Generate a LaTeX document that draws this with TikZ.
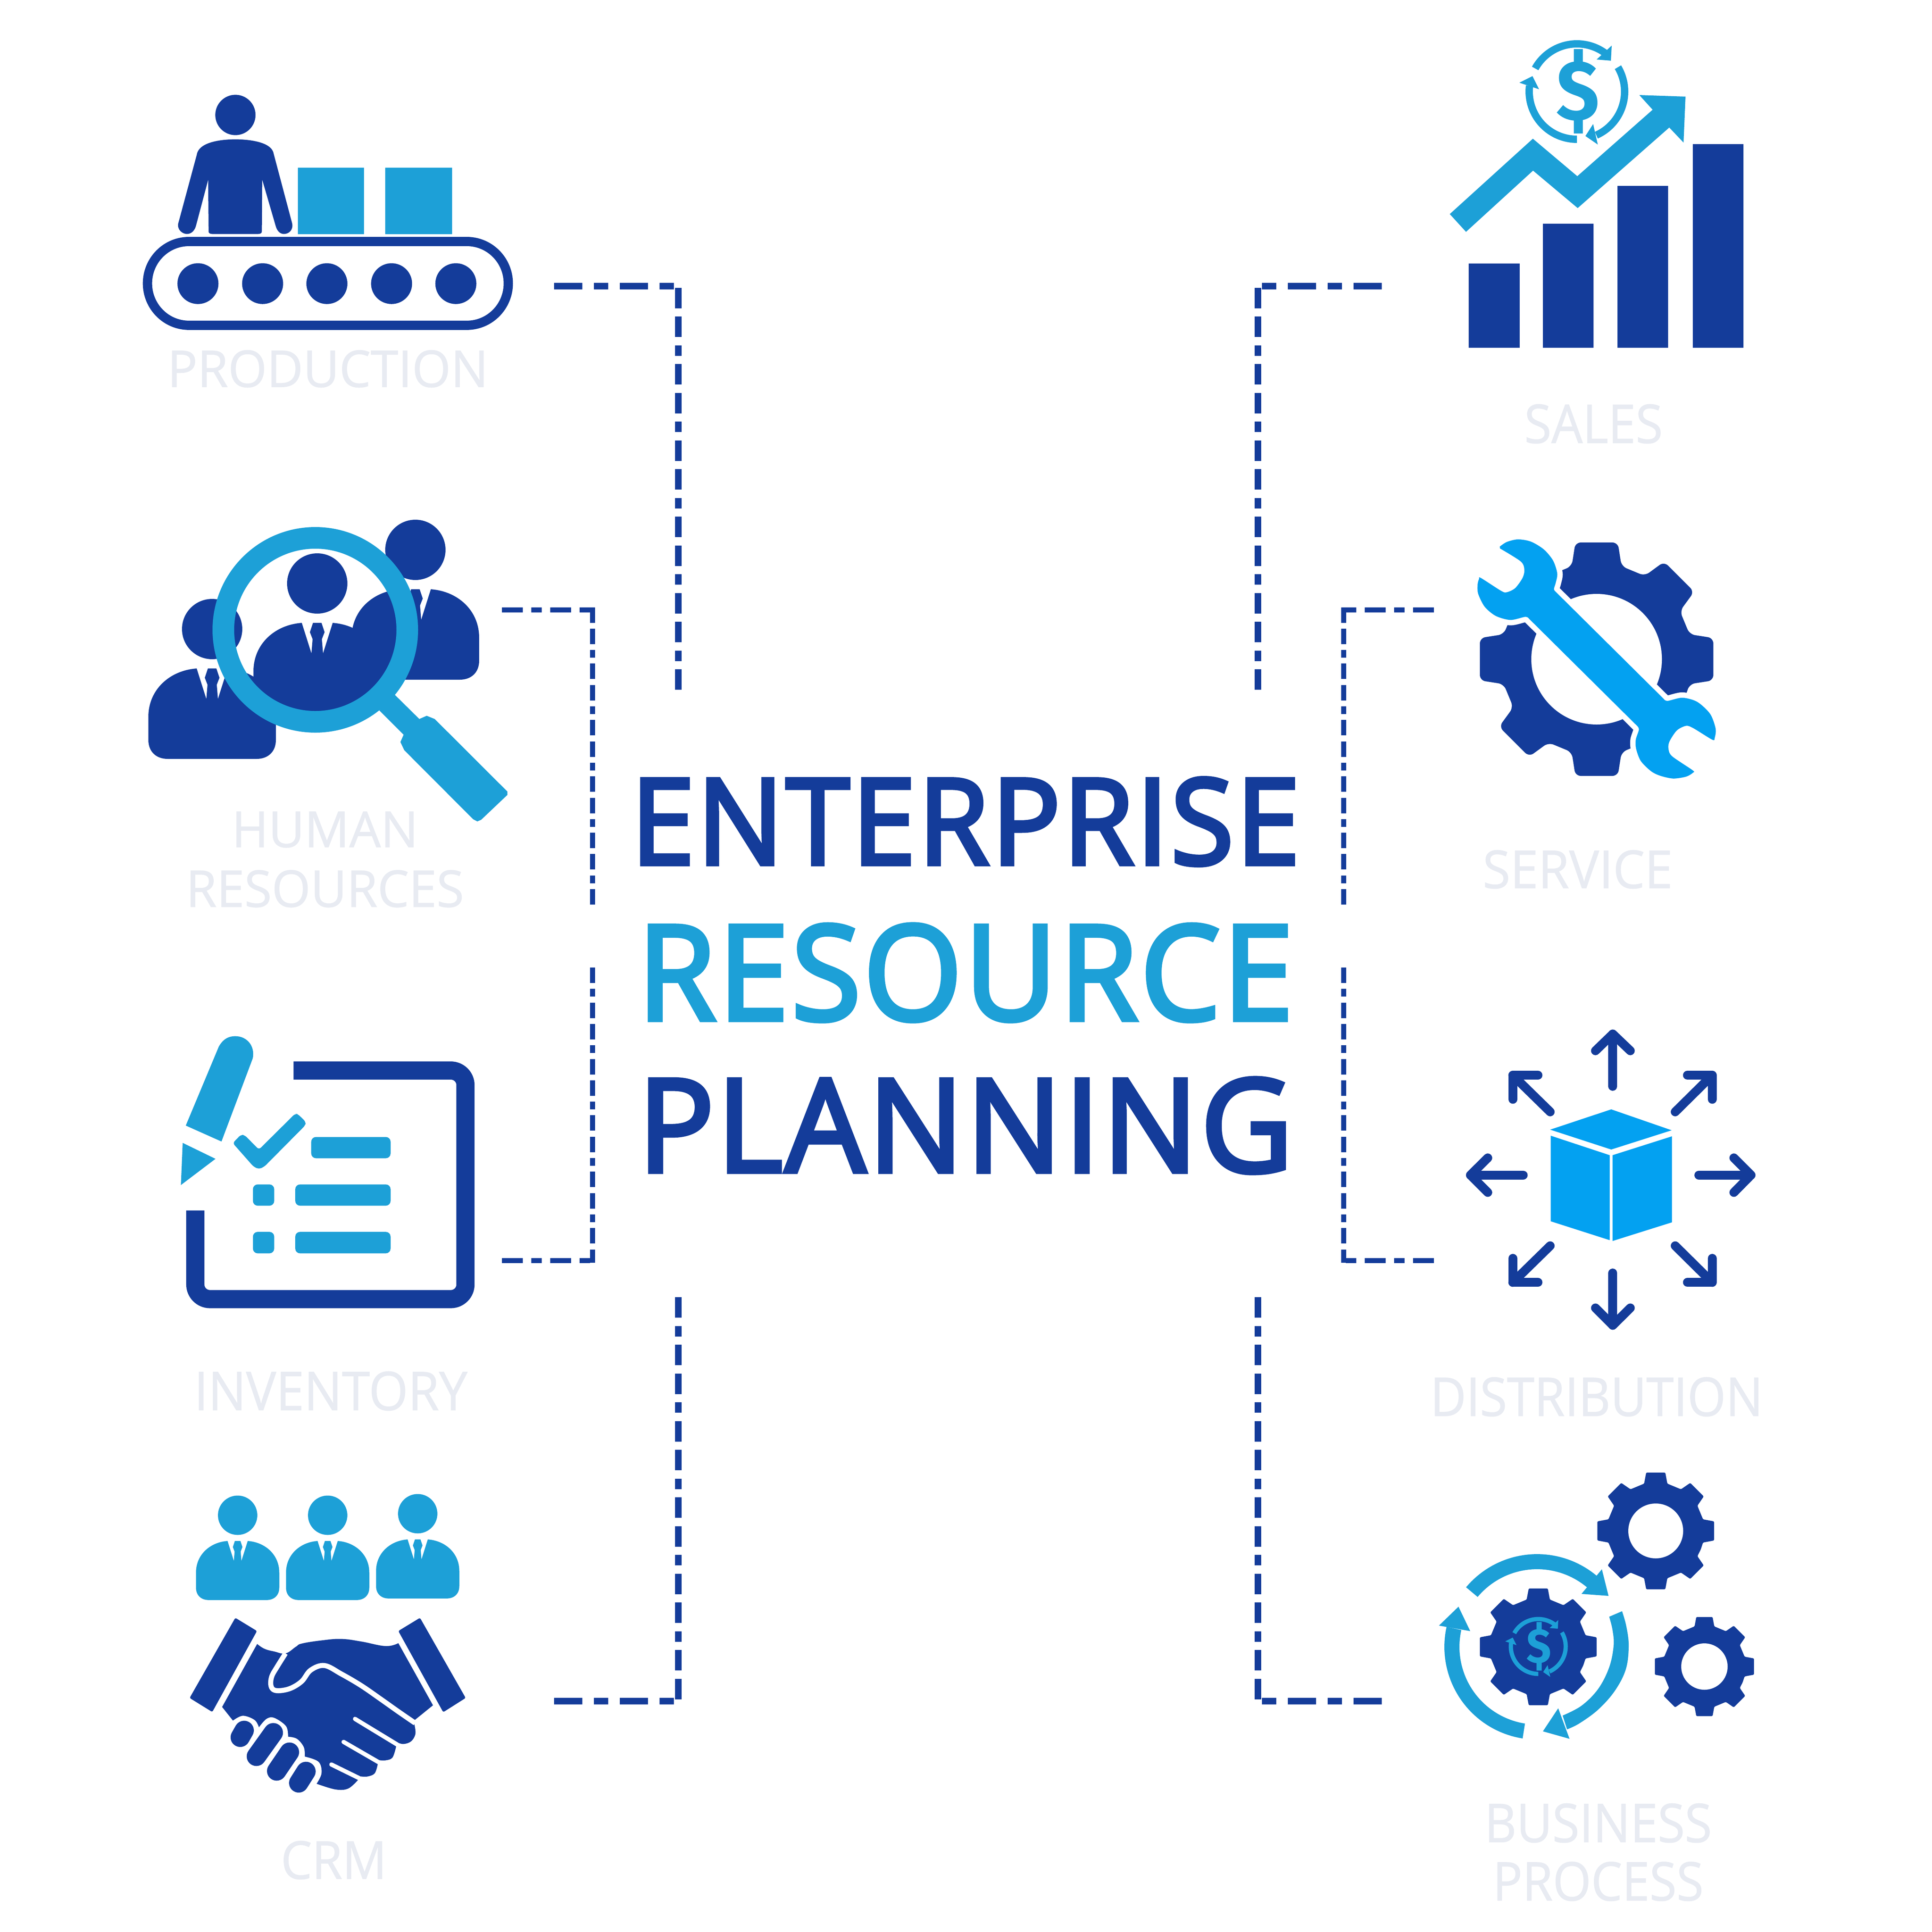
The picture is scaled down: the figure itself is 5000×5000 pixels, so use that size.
\documentclass[tikz,border=0pt]{standalone}
\usepackage{fontspec}
\usepackage{graphicx}
\setmainfont{Open Sans}[FakeBold=1]
\newfontfamily\titlefont{Open Sans}[FakeBold=3.5,LetterSpace=2]
\newfontfamily\dollarfont{Fira Sans}
\definecolor{dk}{HTML}{143C9A}
\definecolor{cy}{HTML}{1DA0D7}
\definecolor{br}{HTML}{03A1F1}
\definecolor{lt}{HTML}{E8EBF2}
\newdimen\ux \ux=0.02cm
\newcommand{\annul}[7]{\fill[#7] plot[domain=#5:#6,samples=40] ({#1+#4*cos(\x)},{#2-#4*sin(\x)}) -- plot[domain=#6:#5,samples=40] ({#1+#3*cos(\x)},{#2-#3*sin(\x)}) -- cycle;}
\newcommand{\gearshape}[8]{%
 \fill[dk,rounded corners=#8] ({#1+#4*cos(-22.5)},{#2-#4*sin(-22.5)})
  \foreach \i in {0,45,...,315} {
   -- ({#1+#4*cos(\i-#6)},{#2-#4*sin(\i-#6)})
   -- ({#1+#3*cos(\i-#5)},{#2-#3*sin(\i-#5)})
   -- ({#1+#3*cos(\i+#5)},{#2-#3*sin(\i+#5)})
   -- ({#1+#4*cos(\i+#6)},{#2-#4*sin(\i+#6)})
  } -- cycle;
 \fill[white] (#1,#2) circle (#7);}
\tikzset{
 lbl/.style={inner sep=0pt,outer sep=0pt,text=lt},
 ttl/.style={inner sep=0pt,outer sep=0pt},
 dashbig/.style={dk,dash pattern=on 53\ux off 21.5\ux on 27\ux off 21.5\ux on 53\ux off 21.5\ux,line width=17\ux},
 dashsmall/.style={dk,dash pattern=on 40\ux off 15.3\ux on 20\ux off 15.3\ux on 40\ux off 15.3\ux,line width=13\ux},
 hbig/.style={dk,dash pattern=on 73\ux off 30\ux on 37\ux off 30\ux,line width=17\ux},
 hsmall/.style={dk,dash pattern=on 54\ux off 22\ux on 27\ux off 22\ux,line width=13\ux},
 arw/.style={dk,line width=23\ux,line cap=round,line join=round},
 bust/.pic={
  \fill[pic actions] (0,-102) circle (78);
  \fill[pic actions] (-40,0) .. controls (-110,5) and (-165,55) .. (-165,125) -- (-165,185)
    .. controls (-165,215) and (-145,234) .. (-115,234) -- (115,234)
    .. controls (145,234) and (165,215) .. (165,185) -- (165,125)
    .. controls (165,55) and (110,5) .. (40,0)
    -- (15,79) -- (12,42) -- (19,24) -- (11,0) -- (-11,0) -- (-19,24) -- (-12,42) -- (-15,79) -- cycle;
 },
 dollarring/.pic={
  \annul{0}{0}{114}{133}{151}{53.5}{cy}
  \annul{0}{0}{114}{133}{30.7}{-66}{cy}
  \annul{0}{0}{114}{133}{-90}{-187}{cy}
  \fill[cy] (90,-119) -- (88,-80) -- (51,-83) -- cycle;
  \fill[cy] (42,84) -- (22,115) -- (54,137) -- cycle;
  \fill[cy] (-149,-23) -- (-115,-40) -- (-98,-6) -- cycle;
  \node[transform shape,inner sep=0pt,text=cy] at (2.5,-0.5) {\resizebox{112\ux}{183\ux}{\dollarfont\bfseries\$}};
 }
}
\begin{document}
\begin{tikzpicture}[x=0.02cm,y=-0.02cm,line join=miter]
\useasboundingbox (0,0) rectangle (5000,5000);
\fill[white] (0,0) rectangle (5000,5000);

% ---- title
\node[ttl,text=dk] (title1) at (2498.5,2126.5) {\resizebox{1731\ux}{223\ux}{\titlefont ENTERPRISE}};
\node[ttl,text=cy] (title2) at (2498.5,2517.5) {\resizebox{1697\ux}{247\ux}{\titlefont RESOURCE}};
\node[ttl,text=dk] (title3) at (2498.5,2913) {\resizebox{1693\ux}{242\ux}{\titlefont PLANNING}};

% ---- labels
\node[lbl] (production) at (848.5,954.5) {\resizebox{830\ux}{95\ux}{PRODUCTION}};
\node[lbl] (human) at (841,2147) {\resizebox{482\ux}{92\ux}{HUMAN}};
\node[lbl] (resources) at (841,2300) {\resizebox{719\ux}{95\ux}{RESOURCES}};
\node[lbl] (inventory) at (856,3600) {\resizebox{707\ux}{100\ux}{INVENTORY}};
\node[lbl] (crm) at (864,4814) {\resizebox{274\ux}{98\ux}{CRM}};
\node[lbl] (sales) at (4124,1097) {\resizebox{358\ux}{100\ux}{SALES}};
\node[lbl] (service) at (4083,2250) {\resizebox{491\ux}{98\ux}{SERVICE}};
\node[lbl] (distribution) at (4132,3615) {\resizebox{861\ux}{100\ux}{DISTRIBUTION}};
\node[lbl] (business) at (4136,4718) {\resizebox{588\ux}{100\ux}{BUSINESS}};
\node[lbl] (process) at (4136,4869) {\resizebox{545\ux}{100\ux}{PROCESS}};

% ---- connectors
\coordinate (a1) at (1434,740); \coordinate (a2) at (1755,740); \coordinate (a3) at (1755,1785);
\draw[hbig,shorten >=-9\ux] (a1) -- (a2); \draw[dashbig,shorten >=-9\ux] (a3) -- (a2);
\coordinate (b1) at (3576,740); \coordinate (b2) at (3255,740); \coordinate (b3) at (3255,1785);
\draw[hbig,shorten >=-9\ux] (b1) -- (b2); \draw[dashbig,shorten >=-9\ux] (b3) -- (b2);
\coordinate (c1) at (1299,1578); \coordinate (c2) at (1533,1578); \coordinate (c3) at (1533,2341);
\draw[hsmall,shorten >=-7\ux] (c1) -- (c2); \draw[dashsmall,shorten >=-6\ux] (c3) -- (c2);
\coordinate (d1) at (3711,1578); \coordinate (d2) at (3477,1578); \coordinate (d3) at (3477,2341);
\draw[hsmall,shorten >=-7\ux] (d1) -- (d2); \draw[dashsmall,shorten >=-6\ux] (d3) -- (d2);
\coordinate (e1) at (1299,3262); \coordinate (e2) at (1533,3262); \coordinate (e3) at (1533,2504);
\draw[hsmall,shorten >=-7\ux] (e1) -- (e2); \draw[dashsmall,shorten >=-6\ux] (e3) -- (e2);
\coordinate (f1) at (3711,3262); \coordinate (f2) at (3477,3262); \coordinate (f3) at (3477,2504);
\draw[hsmall,shorten >=-7\ux] (f1) -- (f2); \draw[dashsmall,shorten >=-6\ux] (f3) -- (f2);
\coordinate (g1) at (1434,4402); \coordinate (g2) at (1755,4402); \coordinate (g3) at (1755,3357);
\draw[hbig,shorten >=-9\ux] (g1) -- (g2); \draw[dashbig,shorten >=-9\ux] (g3) -- (g2);
\coordinate (h1) at (3576,4402); \coordinate (h2) at (3255,4402); \coordinate (h3) at (3255,3357);
\draw[hbig,shorten >=-9\ux] (h1) -- (h2); \draw[dashbig,shorten >=-9\ux] (h3) -- (h2);

% ---- production
\begin{scope}[shift={(300,200)},x=0.02041cm,y=-0.01148cm]
 \fill[dk] (303,170) ellipse [x radius=51,y radius=91];
 \fill[dk] (303,280) .. controls (270,280) and (210,290) .. (205,350) -- (158,660)
   .. controls (155,690) and (170,707) .. (180,707) .. controls (192,707) and (200,690) .. (203,670)
   -- (234,462) -- (235,695) .. controls (235,703) and (238,707) .. (245,707) -- (360,707)
   .. controls (367,707) and (370,703) .. (370,695) -- (371,462) -- (405,670)
   .. controls (408,690) and (415,707) .. (426,707) .. controls (438,707) and (450,690) .. (447,660)
   -- (400,345) .. controls (395,290) and (335,280) .. (303,280) -- cycle;
 \fill[cy] (461,408) rectangle (629,707);
 \fill[cy] (683,408) rectangle (852,707);
 \foreach \q in {208,372,535,699,862} \fill[dk] (\q,931) ellipse [x radius=52,y radius=92];
 \draw[dk,line width=24\ux] (185,741) -- (890,741) .. controls (948,741) and (995,826) .. (995,930)
   .. controls (995,1034) and (948,1119) .. (890,1119) -- (185,1119)
   .. controls (127,1119) and (80,1034) .. (80,930) .. controls (80,826) and (127,741) .. (185,741) -- cycle;
\end{scope}

% ---- human resources
\pic[fill=dk] at (549,1730) {bust};
\pic[fill=dk] at (1075,1525) {bust};
\pic[fill=dk] at (821,1612) {bust};
\draw[cy,line width=56\ux] (816,1630) circle (238);
\begin{scope}[shift={(300,1300)},x=0.01658cm,y=-0.01403cm]
 \fill[cy] (870,710) -- (947,800) -- (970,788) -- (995,800) -- (1222,1068) -- (1222,1080) -- (1140,1172)
   -- (1128,1178) -- (1115,1170) -- (900,915) -- (888,885) -- (898,858) -- (822,768) -- cycle;
\end{scope}

% ---- inventory
\begin{scope}[shift={(420,2650)},x=0.01148cm,y=-0.0102cm]
 \fill[cy] (106,516) -- (255,115) .. controls (275,75) and (300,62) .. (330,62) .. controls (380,62) and (420,110) .. (408,175) -- (267,597) -- cycle;
 \fill[cy] (92,604) -- (240,685) -- (84,818) -- cycle;
 \fill[cy,rounded corners=4pt] (318,605) -- (355,562) -- (372,565) -- (436,638) -- (600,455) -- (612,458) -- (648,498) -- (645,515) -- (460,725) -- (436,737) -- (412,725) -- cycle;
 \fill[cy,rounded corners=7pt] (672,574) rectangle (1030,682);
 \fill[cy,rounded corners=7pt] (600,815) rectangle (1030,923);
 \fill[cy,rounded corners=7pt] (600,1056) rectangle (1030,1165);
 \fill[cy,rounded corners=7pt] (409,815) rectangle (505,923);
 \fill[cy,rounded corners=7pt] (409,1056) rectangle (505,1165);
 \draw[dk,line width=47\ux,rounded corners=21.6pt] (592,236.5) -- (1368,236.5) -- (1368,1397.5) -- (149,1397.5) -- (149,947);
\end{scope}

% ---- crm
\pic[fill=cy,scale=0.653] at (615,3988) {bust};
\pic[fill=cy,scale=0.653] at (848,3988) {bust};
\pic[fill=cy,scale=0.653] at (1081,3984) {bust};
\begin{scope}[shift={(450,3850)},x=0.0102cm,y=-0.01084cm]
 \fill[dk,rounded corners=2pt] (312,622) -- (422,685) -- (195,1072) -- (80,1005) -- cycle;
 \fill[dk,rounded corners=2pt] (1250,622) -- (1140,685) -- (1368,1073) -- (1482,1005) -- cycle;
 \fill[dk] plot[smooth,tension=0.7] coordinates {(423,747) (460,770) (510,783) (567,792) (620,760) (650,745) (750,730) (850,723) (950,735) (1075,757) (1140,743)}
   -- (1316,1040) -- (1220,1113)
   -- plot[smooth,tension=0.6] coordinates {(1220,1125) (1227,1175) (1205,1212) (1165,1225) (1128,1215)}
   -- plot[smooth,tension=0.6] coordinates {(1128,1240) (1110,1290) (1075,1303) (1040,1302)}
   -- plot[smooth,tension=0.6] coordinates {(1035,1323) (1020,1365) (985,1380) (950,1380)}
   -- plot[smooth,tension=0.6] coordinates {(935,1397) (885,1438) (820,1442) (725,1415)}
   -- plot[smooth,tension=0.6] coordinates {(725,1415) (750,1365) (735,1310) (665,1285)}
   -- plot[smooth,tension=0.6] coordinates {(665,1285) (660,1240) (625,1200) (580,1190)}
   -- plot[smooth,tension=0.6] coordinates {(580,1190) (570,1140) (510,1100) (470,1105) (432,1145)}
   -- plot[smooth,tension=0.6] coordinates {(432,1145) (410,1110) (350,1090) (300,1113)}
   -- (245,1048) -- cycle;
 \draw[white,line width=13\ux,line join=round] plot[smooth,tension=0.6] coordinates {(567,792) (525,855) (498,900) (492,940) (505,965) (540,970) (595,958) (650,925) (695,872) (765,850) (850,890) (950,945) (1050,1010) (1140,1070) (1225,1125)};
 \draw[white,line width=11\ux,line cap=round] (920,1105) -- (1135,1228);
 \draw[white,line width=11\ux,line cap=round] (862,1215) -- (1040,1312);
 \draw[white,line width=11\ux,line cap=round] (800,1323) -- (945,1390);
 \draw[dk,line width=50\ux,line cap=round] (357,1160) -- (337,1193);
 \draw[dk,line width=50\ux,line cap=round] (505,1171) -- (419,1284);
 \draw[dk,line width=50\ux,line cap=round] (587,1264) -- (522,1354);
 \draw[dk,line width=50\ux,line cap=round] (671,1356) -- (634,1411);
\end{scope}

% ---- sales
\fill[dk] (3801,682) rectangle (3932.5,900);
\fill[dk] (3993,579) rectangle (4124,900);
\fill[dk] (4186,480.5) rectangle (4317,900);
\fill[dk] (4381,373) rectangle (4512,900);
\fill[cy] (3752,554) -- (3967,359) -- (4082,456) -- (4277,284) -- (4242.5,246) -- (4362,250) -- (4357,369) -- (4320,330) -- (4083,538.5) -- (3967.5,441.5) -- (3794,600) -- cycle;
\pic at (4081,237) {dollarring};

% ---- service
\gearshape{4132}{1706}{307}{249}{10.3}{15}{169}{8pt}
\begin{scope}[shift={(3780,1350)},x=0.00957cm,y=-0.00957cm]
 \fill[white] (345,260) -- (325,215) -- (200,130) -- (90,290) -- (220,375) -- (295,360) -- cycle;
 \fill[white] (1125,1230) -- (1145,1270) -- (1275,1360) -- (1385,1190) -- (1260,1118) -- (1170,1130) -- cycle;
 \fill[br,preaction={draw=white,line width=28\ux,line join=round}]
   plot[smooth,tension=0.5] coordinates {(212,135) (250,110) (310,96) (380,108) (450,150) (500,210) (523,280) (515,330) (505,365) (515,380)}
   -- plot[smooth,tension=0.5] coordinates {(1100,960) (1120,970) (1200,953) (1280,975) (1350,1040) (1380,1120) (1375,1170) (1362,1180) (1260,1118) (1220,1105) (1170,1130) (1130,1190) (1125,1230) (1145,1270) (1255,1345) (1258,1358) (1220,1380) (1150,1390) (1080,1375) (1030,1350) (975,1295) (950,1230) (948,1180) (965,1125) (955,1105)}
   -- plot[smooth,tension=0.5] coordinates {(370,525) (350,515) (270,532) (190,510) (130,460) (95,390) (92,340) (100,310) (110,305) (220,375) (250,382) (295,360) (335,305) (345,260) (325,215) (213,145)}
   -- cycle;
\end{scope}

% ---- distribution
\begin{scope}[shift={(3780,2650)},x=0.0102cm,y=-0.01084cm]
 \fill[br] (455,505) -- (765,408) -- (1072,508) -- (765,600) -- cycle;
 \fill[br] (458,534) -- (757,627) -- (757,1033) -- (458,943) -- cycle;
 \fill[br] (772,627) -- (1073,537) -- (1073,948) -- (772,1037) -- cycle;
 \draw[arw] (773,298) -- (773,48); \draw[arw] (685,128) -- (773,48) -- (862,128);
 \draw[arw] (773,1190) -- (773,1440); \draw[arw] (685,1357) -- (773,1440) -- (862,1357);
 \draw[arw] (318,722) -- (50,722); \draw[arw] (138,640) -- (50,722) -- (138,805);
 \draw[arw] (1210,722) -- (1475,722); \draw[arw] (1388,640) -- (1475,722) -- (1388,805);
 \draw[arw] (455,420) -- (265,245); \draw[arw] (265,360) -- (265,245) -- (393,245);
 \draw[arw] (1090,420) -- (1278,245); \draw[arw] (1152,245) -- (1278,245) -- (1278,360);
 \draw[arw] (455,1060) -- (265,1235); \draw[arw] (265,1120) -- (265,1235) -- (393,1235);
 \draw[arw] (1090,1060) -- (1278,1235); \draw[arw] (1152,1235) -- (1278,1235) -- (1278,1120);
\end{scope}

% ---- business process
\gearshape{4285}{3962}{153}{126}{9.3}{13.8}{71}{1.5pt}
\gearshape{4411}{4313}{130}{107}{9.3}{13.8}{60}{1.5pt}
\gearshape{3981}{4262}{153}{126}{9.3}{13.8}{0.01}{1.5pt}
\pic[scale=0.575] at (3981,4261) {dollarring};
\annul{3978}{4262}{201}{240}{140}{50}{cy}
\annul{3978}{4262}{201}{240}{-99}{-192.5}{cy}
\begin{scope}[shift={(3720,3780)},x=0.01148cm,y=-0.0102cm]
 \fill[cy] (742,552) -- (772,687) -- (650,677) -- cycle;
 \fill[cy] (545,1258) -- (476,1375) -- (596,1413) -- cycle;
 \fill[cy] (95,742) -- (7,838) -- (148,866) -- cycle;
 \fill[cy] plot[smooth,tension=0.6] coordinates {(833,765) (852,840) (863,940) (850,1060) (800,1170) (725,1265) (640,1335) (585,1365)}
   -- plot[smooth,tension=0.6] coordinates {(565,1295) (650,1245) (725,1160) (775,1050) (795,940) (790,860) (775,793)} -- cycle;
\end{scope}
\end{tikzpicture}
\end{document}
